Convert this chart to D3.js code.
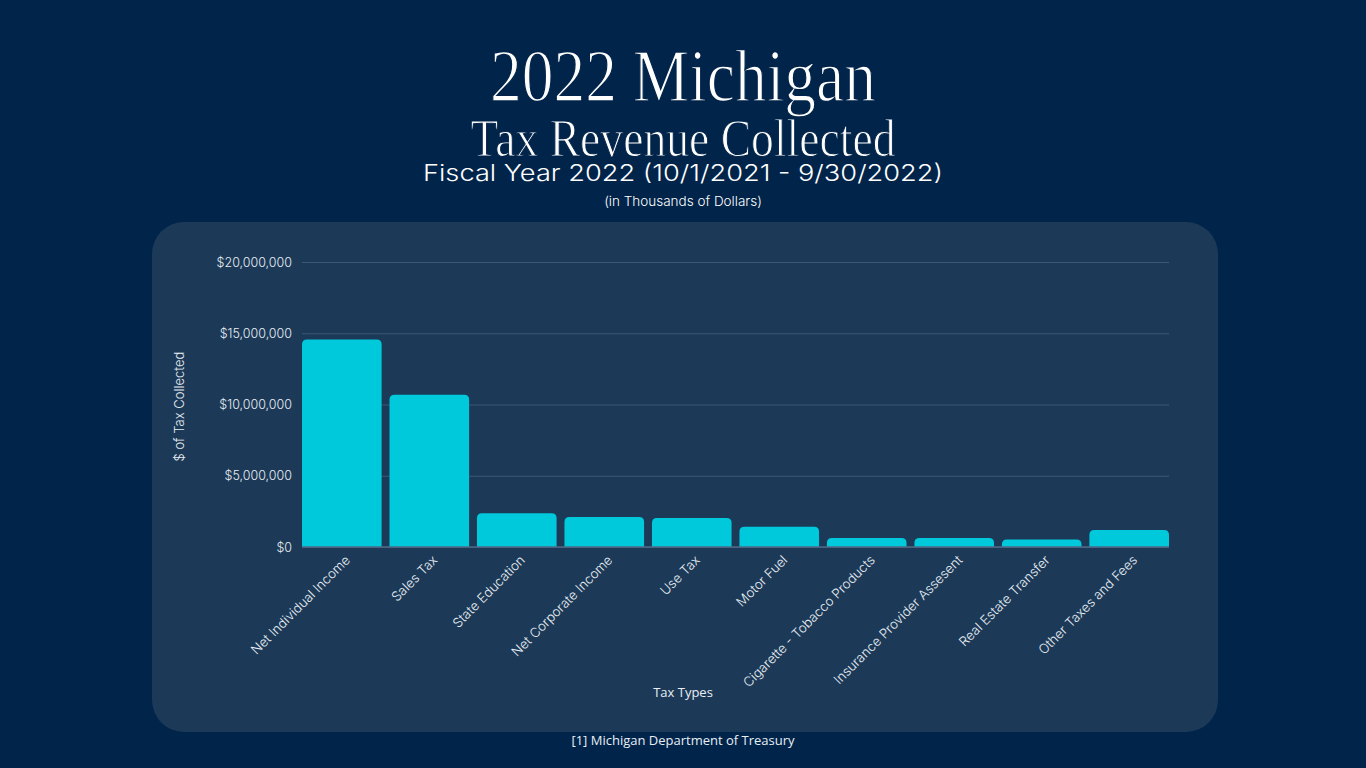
<!DOCTYPE html>
<html>
<head>
<meta charset="utf-8">
<script src="https://cdn.jsdelivr.net/npm/d3@7/dist/d3.min.js"></script>
<style>
  html, body { margin: 0; padding: 0; background: #00244a; }
  svg { display: block; }
  .tick text { font-family: Inter, "Open Sans", sans-serif; }
</style>
</head>
<body>
<div id="chart"></div>
<script>
// values are in thousands of dollars
const categories = [
  'Net Individual Income', 'Sales Tax', 'State Education', 'Net Corporate Income',
  'Use Tax', 'Motor Fuel', 'Cigarette - Tobacco Products',
  'Insurance Provider Assesent', 'Real Estate Transfer', 'Other Taxes and Fees'
];
const revenue = [
  14570000, 10690000, 2360000, 2100000, 2030000,
  1420000, 630000, 630000, 530000, 1200000
];
const yTicks = [0, 5000000, 10000000, 15000000, 20000000];

const W = 1366, H = 768;
const margin = {top: 262, right: 197, bottom: 221, left: 302};
const iw = W - margin.left - margin.right;
const ih = H - margin.top - margin.bottom;
const bg = '#00244a';

const svg = d3.select('#chart').append('svg')
  .attr('width', W)
  .attr('height', H);

svg.append('rect')
  .attr('width', W).attr('height', H)
  .attr('fill', bg);

// rounded card behind the chart
svg.append('rect')
  .attr('x', 152).attr('y', 222)
  .attr('width', 1066).attr('height', 510)
  .attr('rx', 32)
  .attr('fill', '#1c3a58');

// titles -- serif is thinned with a background-coloured stroke
const titles = svg.append('g').attr('fill', '#ffffff').attr('text-anchor', 'middle');
titles.append('text')
  .attr('x', W/2).attr('y', 101)
  .attr('font-family', '"Liberation Serif", "DejaVu Serif", serif')
  .attr('font-size', 74)
  .attr('stroke', bg).attr('stroke-width', 1.4)
  .attr('textLength', 386).attr('lengthAdjust', 'spacingAndGlyphs')
  .text('2022 Michigan');
titles.append('text')
  .attr('x', W/2).attr('y', 156)
  .attr('font-family', '"Liberation Serif", "DejaVu Serif", serif')
  .attr('font-size', 53)
  .attr('stroke', bg).attr('stroke-width', 1.1)
  .attr('textLength', 425).attr('lengthAdjust', 'spacingAndGlyphs')
  .text('Tax Revenue Collected');
titles.append('text')
  .attr('x', W/2).attr('y', 181)
  .attr('font-family', 'Inter, "Open Sans", sans-serif')
  .attr('font-size', 22.5)
  .attr('font-weight', 300)
  .attr('textLength', 520).attr('lengthAdjust', 'spacingAndGlyphs')
  .text('Fiscal Year 2022 (10/1/2021 - 9/30/2022)');
titles.append('text')
  .attr('x', W/2).attr('y', 206)
  .attr('font-family', 'Inter, "Open Sans", sans-serif')
  .attr('font-size', 13.5)
  .attr('font-weight', 300)
  .text('(in Thousands of Dollars)');

const g = svg.append('g')
  .attr('transform', `translate(${margin.left},${margin.top})`);

const x = d3.scaleBand()
  .domain(categories)
  .range([0, iw])
  .paddingInner(0.09)
  .paddingOuter(0);

const y = d3.scaleLinear()
  .domain([0, 20000000])
  .range([ih, 0]);

const fmt = v => '$' + d3.format(',')(v);

// y axis + gridlines
const yAxis = g.append('g')
  .call(d3.axisLeft(y).tickValues(yTicks).tickFormat(fmt).tickSize(-iw).tickPadding(10));
yAxis.select('.domain').remove();
yAxis.selectAll('.tick line')
  .attr('stroke', '#3b5876')
  .attr('stroke-width', 1);
yAxis.selectAll('.tick text')
  .attr('fill', '#e8eef4')
  .attr('font-size', 12.5)
  .attr('font-weight', 300);

// bars with rounded tops
const r = 5;
g.selectAll('path.bar')
  .data(revenue)
  .join('path')
    .attr('class', 'bar')
    .attr('fill', '#00c9dc')
    .attr('d', (d, i) => {
      const x0 = x(categories[i]), bw = x.bandwidth();
      const y0 = y(d), y1 = y(0);
      const rr = Math.min(r, (y1 - y0));
      return `M${x0},${y1}V${y0 + rr}Q${x0},${y0} ${x0 + rr},${y0}` +
             `H${x0 + bw - rr}Q${x0 + bw},${y0} ${x0 + bw},${y0 + rr}V${y1}Z`;
    });

// baseline
g.append('line')
  .attr('x1', 0).attr('x2', iw)
  .attr('y1', ih).attr('y2', ih)
  .attr('stroke', '#4d6a88').attr('stroke-width', 1.5);

// x axis labels, rotated
const xAxis = g.append('g')
  .attr('transform', `translate(0,${ih})`)
  .call(d3.axisBottom(x).tickSize(0).tickPadding(0));
xAxis.select('.domain').remove();
xAxis.selectAll('.tick text')
  .attr('fill', '#e8eef4')
  .attr('font-size', 13.2)
  .attr('font-weight', 300)
  .attr('text-anchor', 'end')
  .attr('dy', 0)
  .attr('transform', 'translate(9,14) rotate(-45)');

// axis titles
svg.append('text')
  .attr('transform', `translate(184,${margin.top + ih/2 + 2}) rotate(-90)`)
  .attr('text-anchor', 'middle')
  .attr('fill', '#e8eef4')
  .attr('font-family', 'Inter, "Open Sans", sans-serif')
  .attr('font-size', 13)
  .attr('font-weight', 300)
  .text('$ of Tax Collected');

svg.append('text')
  .attr('x', W/2).attr('y', 697)
  .attr('text-anchor', 'middle')
  .attr('fill', '#e8eef4')
  .attr('font-family', '"Open Sans", sans-serif')
  .attr('font-size', 13)
  .text('Tax Types');

svg.append('text')
  .attr('x', W/2).attr('y', 745)
  .attr('text-anchor', 'middle')
  .attr('fill', '#e8eef4')
  .attr('font-family', '"Open Sans", sans-serif')
  .attr('font-size', 13)
  .text('[1] Michigan Department of Treasury');
</script>
</body>
</html>
